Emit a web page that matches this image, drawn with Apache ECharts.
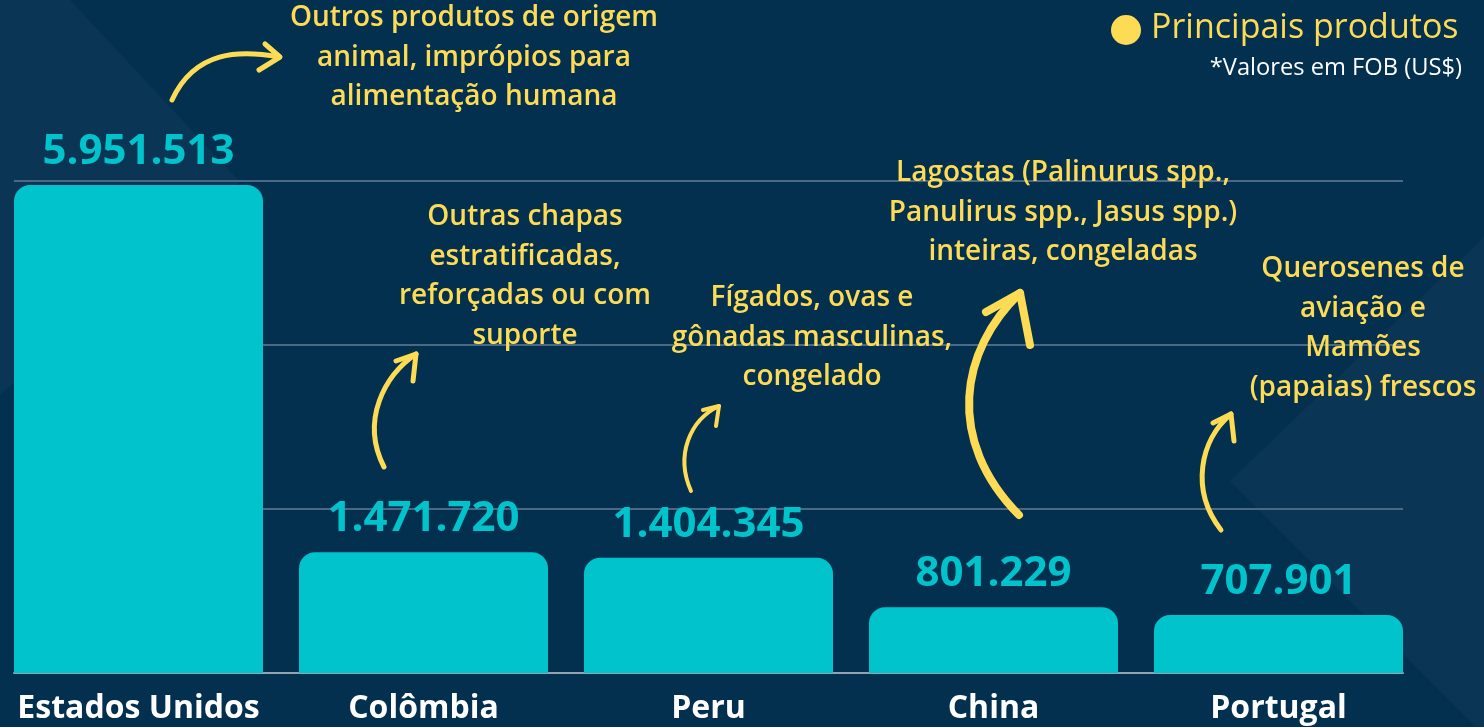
<!DOCTYPE html>
<html>
<head>
<meta charset="utf-8">
<script src="https://cdn.jsdelivr.net/npm/echarts@6/dist/echarts.min.js"></script>
<style>
  html, body { margin: 0; padding: 0; background: #03304f; }
  #chart { width: 1484px; height: 727px; }
</style>
</head>
<body>
<div id="chart"></div>
<script>
var countries = ['Estados Unidos', 'Colômbia', 'Peru', 'China', 'Portugal'];
var values = [5951513, 1471720, 1404345, 801229, 707901];
var yTicks = [0, 2000000, 4000000, 6000000];

var products = [
  'Outros produtos de origem\nanimal, imprópios para\nalimentação humana',
  'Outras chapas\nestratificadas,\nreforçadas ou com\nsuporte',
  'Fígados, ovas e\ngônadas masculinas,\ncongelado',
  'Lagostas (Palinurus spp.,\nPanulirus spp., Jasus spp.)\ninteiras, congeladas',
  'Querosenes de\naviação e\nMamões\n(papaias) frescos'
];

var bg = '#03304f';
var bgLight = '#0b3555';
var cyan = '#00c3cc';
var yellow = '#fedb55';
var gridCol = '#4b6885';
var font = '"Open Sans", sans-serif';

function dots(v) {
  return String(v).replace(/\B(?=(\d{3})+(?!\d))/g, '.');
}

// where each product note sits (centre x, top of first line)
var notePos = [[474, -2], [525, 197], [812, 278], [1063, 153], [1363, 249]];

var chart = echarts.init(document.getElementById('chart'), null, { renderer: 'canvas' });

var graphics = [
  { type: 'polygon', z: -10, silent: true,
    shape: { points: [[0, 0], [70, 0], [240, 182], [0, 395]] },
    style: { fill: bgLight } },
  { type: 'polygon', z: -10, silent: true,
    shape: { points: [[1230, 481], [1484, 237], [1484, 727], [1476, 727]] },
    style: { fill: bgLight } }
];

products.forEach(function(p, i) {
  graphics.push({
    type: 'text', z: 10,
    x: notePos[i][0], y: notePos[i][1],
    style: {
      text: p, fill: yellow, font: '600 28px ' + font,
      align: 'center', verticalAlign: 'top', lineHeight: 39.7
    }
  });
});

// hand drawn arrows
function arrow(curve, head, w) {
  graphics.push({
    type: 'bezierCurve', z: 10,
    shape: curve,
    style: { stroke: yellow, lineWidth: w, fill: null, lineCap: 'round' }
  });
  graphics.push({
    type: 'polyline', z: 10,
    shape: { points: head },
    style: { stroke: yellow, lineWidth: w, fill: null, lineCap: 'round', lineJoin: 'round' }
  });
}
arrow({ x1: 172, y1: 100, cpx1: 195, cpy1: 50, cpx2: 240, cpy2: 50, x2: 279, y2: 57 },
      [[265, 44], [280, 57], [259, 70]], 5);
arrow({ x1: 384, y1: 467, cpx1: 360, cpy1: 420, cpx2: 385, cpy2: 375, x2: 416, y2: 354 },
      [[396, 361], [416, 354], [413, 381]], 5);
arrow({ x1: 691, y1: 491, cpx1: 675, cpy1: 455, cpx2: 690, cpy2: 420, x2: 719, y2: 406 },
      [[703, 410], [719, 406], [716, 426]], 4);
arrow({ x1: 1019, y1: 515, cpx1: 945, cpy1: 440, cpx2: 960, cpy2: 350, x2: 1020, y2: 293 },
      [[986, 312], [1020, 293], [1030, 345]], 8);
arrow({ x1: 1221, y1: 530, cpx1: 1190, cpy1: 490, cpx2: 1200, cpy2: 440, x2: 1231, y2: 414 },
      [[1213, 423], [1231, 414], [1234, 441]], 5);

// legend
graphics.push({ type: 'circle', z: 10, shape: { cx: 1126, cy: 30, r: 15 }, style: { fill: yellow } });
graphics.push({
  type: 'text', z: 10, x: 1151, y: 28,
  style: { text: 'Principais produtos', fill: yellow, font: '34px ' + font, verticalAlign: 'middle' }
});
graphics.push({
  type: 'text', z: 10, x: 1462, y: 68,
  style: { text: '*Valores em FOB (US$)', fill: '#ffffff', font: '23.7px ' + font, align: 'right', verticalAlign: 'middle' }
});

chart.setOption({
  animation: false,
  backgroundColor: bg,
  graphic: graphics,
  grid: [
    { left: 14, right: 81, top: 181, bottom: 54, outerBoundsMode: 'none' },
    { left: -4, right: 63, top: 181, bottom: 54, outerBoundsMode: 'none' }
  ],
  xAxis: [
    { type: 'value', gridIndex: 0, min: 0, max: 1,
      axisLine: { show: true, onZero: false, lineStyle: { color: '#93a3b5', width: 2 } },
      axisTick: { show: false }, axisLabel: { show: false }, splitLine: { show: false } },
    { type: 'category', gridIndex: 1, data: countries,
      axisLine: { show: false }, axisTick: { show: false },
      axisLabel: { interval: 0, color: '#ffffff', fontFamily: font, fontWeight: 'bold', fontSize: 32, margin: 20 } }
  ],
  yAxis: [
    { type: 'value', gridIndex: 0, min: yTicks[0], max: yTicks[yTicks.length - 1], interval: yTicks[1] - yTicks[0],
      axisLine: { show: false }, axisTick: { show: false }, axisLabel: { show: false },
      splitLine: { show: true, lineStyle: { color: gridCol, width: 2 } } },
    { type: 'value', gridIndex: 1, min: yTicks[0], max: yTicks[yTicks.length - 1],
      show: false, splitLine: { show: false } }
  ],
  series: [{
    type: 'bar',
    xAxisIndex: 1, yAxisIndex: 1,
    data: values,
    barWidth: 249,
    itemStyle: { color: cyan, borderRadius: [16, 16, 0, 0] },
    label: {
      show: true, position: 'top', distance: 12,
      color: cyan, fontFamily: font, fontWeight: 'bold', fontSize: 42,
      formatter: function(p) { return dots(p.value); }
    }
  }]
});
window.addEventListener('resize', function() { chart.resize(); });
</script>
</body>
</html>
